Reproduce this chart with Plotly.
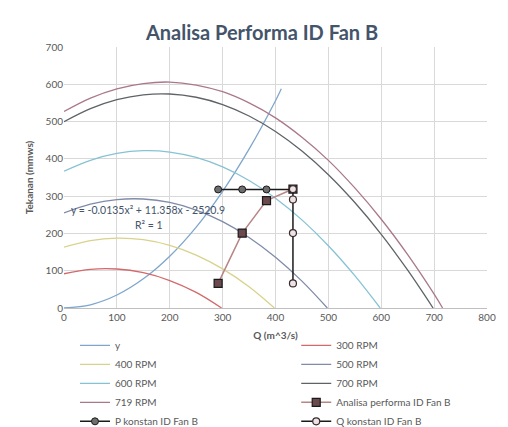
import plotly.graph_objects as go

# ---- data ----
q_sys = [0, 50, 100, 150, 200, 250, 300, 350, 400, 411]
p_sys = [0, 8.7, 34.8, 78.3, 139, 217, 313, 426, 556, 588]

q_300 = [0, 50, 100, 150, 200, 250, 298]
p_300 = [91.8, 103.7, 104.6, 94.6, 73.7, 41.8, 0]

q_400 = [0, 50, 100, 150, 200, 250, 300, 350, 398]
p_400 = [163.1, 180.7, 187.5, 183.3, 168.1, 142, 105, 57, 0]

q_500 = [0, 50, 100, 150, 200, 250, 300, 350, 400, 450, 498]
p_500 = [254.9, 278.3, 290.8, 292.4, 283.1, 262.7, 231.5, 189.3, 136.2, 72.1, 0]

q_600 = [0, 50, 100, 150, 200, 250, 300, 350, 400, 450, 500, 550, 598]
p_600 = [367, 396.2, 414.5, 421.9, 418.3, 403.7, 378.3, 341.9, 294.6, 236.3, 167, 86.7, 0]

q_700 = [0, 50, 100, 150, 200, 250, 300, 350, 400, 450, 500, 550, 600, 650, 698]
p_700 = [499.6, 534.6, 558.7, 571.8, 574, 565.2, 545.6, 515, 473.4, 420.9, 357.4, 282.9, 197.7, 101.4, 0]

q_719 = [0, 50, 100, 150, 200, 250, 300, 350, 400, 450, 500, 550, 600, 650, 700, 716]
p_719 = [527, 563, 588, 602, 606, 598, 580, 550, 510, 458, 396, 322, 238, 143, 37, 0]

q_analisa = [291.5, 337, 383, 433]
p_analisa = [66, 201, 288, 319]

q_pkonst = [291.5, 337, 383, 433]
p_pkonst = [318, 318, 318, 318]

q_qkonst = [433, 433, 433, 433]
p_qkonst = [319, 291, 201, 66]

x_ticks = [0, 100, 200, 300, 400, 500, 600, 700, 800]
y_ticks = [0, 100, 200, 300, 400, 500, 600, 700]

FONT = "Lato, Open Sans, Arial"

fig = go.Figure()

def curve(q, p, name, color, leg, width=1.3):
    fig.add_trace(go.Scatter(x=q, y=p, mode="lines", name=name, legend=leg,
                             line=dict(color=color, width=width, shape="spline")))

curve(q_sys, p_sys, "y", "#7FA6CC", "legend")
curve(q_300, p_300, "300 RPM", "#D2696B", "legend2")
curve(q_400, p_400, "400 RPM", "#D9D28C", "legend")
curve(q_500, p_500, "500 RPM", "#7F8BA8", "legend2")
curve(q_600, p_600, "600 RPM", "#86C3D2", "legend")
curve(q_700, p_700, "700 RPM", "#5E6368", "legend2")
curve(q_719, p_719, "719 RPM", "#A9788A", "legend")

fig.add_trace(go.Scatter(x=q_analisa, y=p_analisa, mode="lines+markers",
                         name="Analisa performa ID Fan B", legend="legend2",
                         line=dict(color="#B88585", width=1.5),
                         marker=dict(symbol="square", size=8, color="#6B4A4E",
                                     line=dict(color="#1A1A1A", width=1.2))))
fig.add_trace(go.Scatter(x=q_pkonst, y=p_pkonst, mode="lines+markers",
                         name="P konstan ID Fan B", legend="legend",
                         line=dict(color="#1A1A1A", width=1.5),
                         marker=dict(symbol="circle", size=7, color="#6E6E6E",
                                     line=dict(color="#1A1A1A", width=1))))
fig.add_trace(go.Scatter(x=q_qkonst, y=p_qkonst, mode="lines+markers",
                         name="Q konstan ID Fan B", legend="legend2",
                         line=dict(color="#1A1A1A", width=1.5),
                         marker=dict(symbol="circle", size=7, color="#EDE3E5",
                                     line=dict(color="#3A2A2E", width=1.2))))

fig.add_annotation(x=158, y=262, xref="x", yref="y", showarrow=False,
                   text="y = -0.0135x² + 11.358x - 2520.9",
                   font=dict(size=10.5, color="#44546A", family=FONT))
fig.add_annotation(x=160, y=222, xref="x", yref="y", showarrow=False,
                   text="R² = 1", font=dict(size=10.5, color="#44546A", family=FONT))

H = 440
PLOT_BOTTOM = 302
leg_common = dict(orientation="v", xanchor="left", yref="paper", yanchor="top",
                  y=-23/263, font=dict(size=10, color="#595959", family=FONT),
                  itemwidth=30, tracegroupgap=0, bgcolor="rgba(0,0,0,0)")

# page body has an 8px default margin: the figure is offset so the plot lands in place
fig.update_layout(
    width=500, height=H,
    margin=dict(l=56, r=14, t=39, b=H - PLOT_BOTTOM),
    paper_bgcolor="white", plot_bgcolor="white",
    font=dict(family=FONT, color="#595959", size=10),
    title=dict(text="<b>Analisa Performa ID Fan B</b>", x=254/500, xanchor="center",
               y=1 - 25/H, yanchor="middle",
               font=dict(size=20, color="#44546A", family=FONT)),
    showlegend=True,
    legend=dict(x=0.026, **leg_common),
    legend2=dict(x=0.549, **leg_common),
)
fig.update_xaxes(range=[0, 800], tickvals=x_ticks, showgrid=True, gridcolor="#D9D9D9",
                 zeroline=False, showline=True, linecolor="#BFBFBF",
                 title=dict(text="<b>Q (m^3/s)</b>", font=dict(size=10, color="#595959"),
                            standoff=9),
                 tickfont=dict(size=10, color="#595959"), ticks="")
fig.update_yaxes(range=[0, 700], tickvals=y_ticks, showgrid=True, gridcolor="#D9D9D9",
                 zeroline=False, showline=False,
                 title=dict(text="<b>Tekanan (mmws)</b>", font=dict(size=10, color="#595959"),
                            standoff=10),
                 tickfont=dict(size=10, color="#595959"), ticks="")

fig.write_html("out.html")
